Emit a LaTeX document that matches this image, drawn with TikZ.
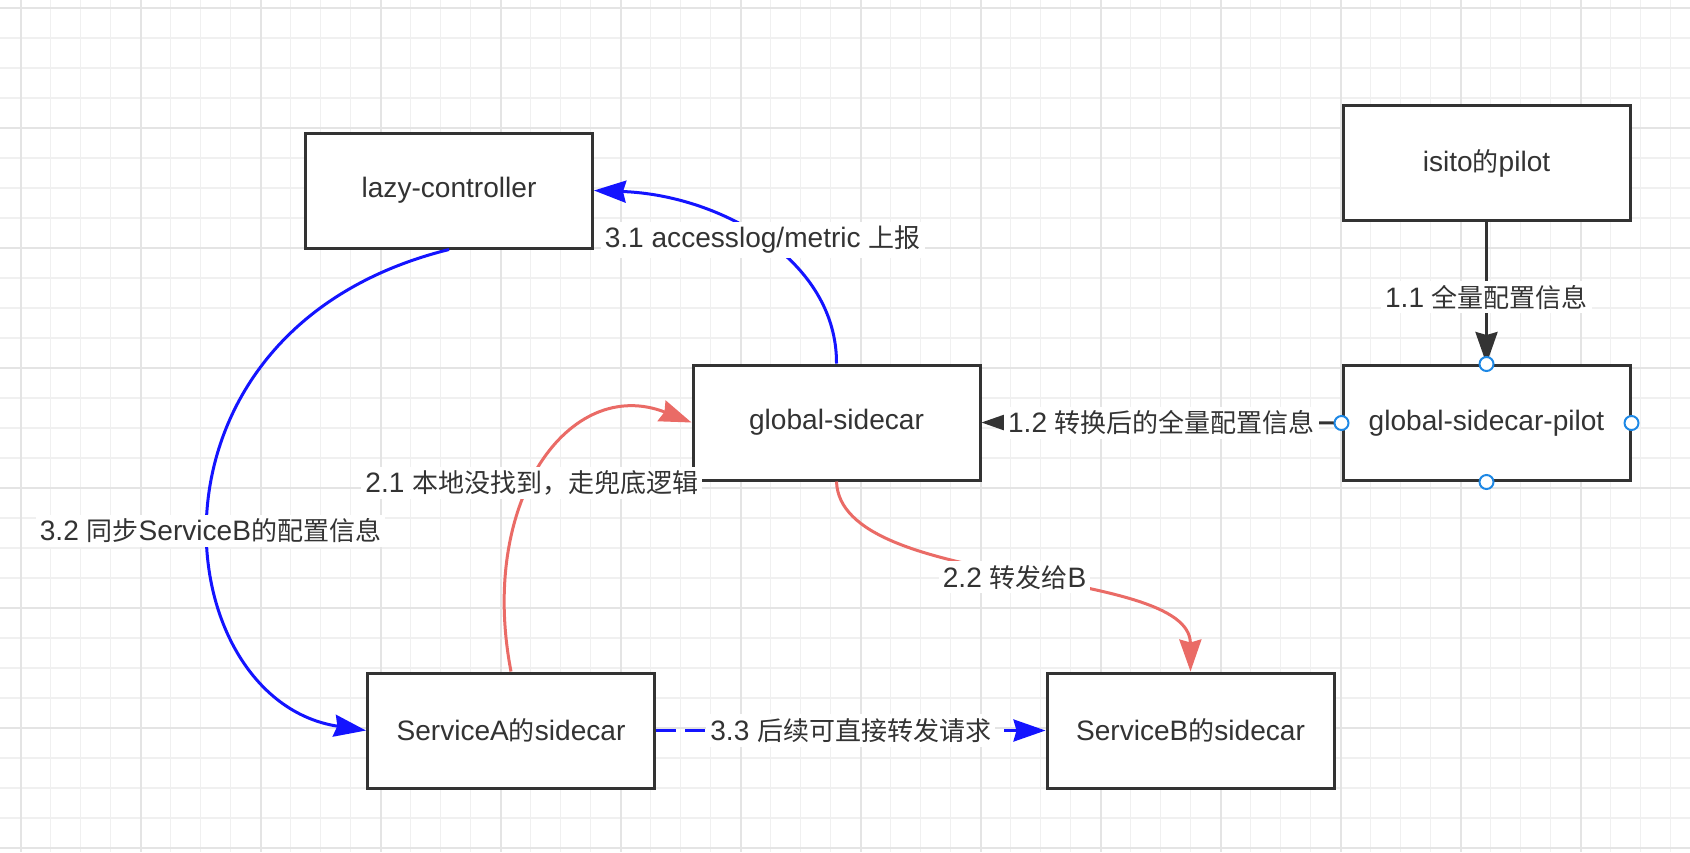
\documentclass[tikz,border=0pt]{standalone}
\usepackage{fontspec}
\setmainfont{Liberation Sans}[Scale=1.08]
\newfontfamily\cjk{Noto Sans CJK SC}
\usetikzlibrary{arrows.meta}

\definecolor{darkline}{HTML}{333333}
\definecolor{flowblue}{HTML}{1414FF}
\definecolor{flowred}{HTML}{EA6B66}
\definecolor{handleblue}{HTML}{1E88E5}
\definecolor{gridminor}{HTML}{F0F0F0}
\definecolor{gridmajor}{HTML}{E4E4E4}

\tikzset{
  box/.style={draw=darkline, line width=1.5pt, fill=white, minimum width=143.5pt,
    minimum height=57.5pt, inner sep=0pt, text=darkline, font=\fontsize{13}{15}\selectfont},
  lbl/.style={fill=white, inner sep=2pt, text=darkline, font=\fontsize{13}{15}\selectfont},
  tipstyle/.style={-{Stealth[length=16pt, width=11pt, inset=1.5pt]}},
  blueflow/.style={draw=flowblue, line width=1.5pt, tipstyle},
  redflow/.style={draw=flowred, line width=1.5pt, tipstyle},
  blackflow/.style={draw=darkline, line width=1.5pt, tipstyle},
  handle/.style={circle, draw=handleblue, fill=white, line width=1pt, inner sep=0pt, minimum size=7pt}
}

\begin{document}
\begin{tikzpicture}[x=0.5pt, y=-0.5pt]
  \useasboundingbox (0,0) rectangle (1690,852);
  \fill[white] (0,0) rectangle (1690,852);

  % grid
  \foreach \gx in {0,...,55}
    \draw[gridminor, line width=0.75pt] ({20.5+30*\gx},0) -- ({20.5+30*\gx},852);
  \foreach \gy in {0,...,28}
    \draw[gridminor, line width=0.75pt] (0,{8+30*\gy}) -- (1690,{8+30*\gy});
  \foreach \gx in {0,...,13}
    \draw[gridmajor, line width=1pt] ({20.5+120*\gx},0) -- ({20.5+120*\gx},852);
  \foreach \gy in {0,...,7}
    \draw[gridmajor, line width=1pt] (0,{8+120*\gy}) -- (1690,{8+120*\gy});

  % boxes
  \node[box] (lazy) at (449,190.5) {lazy-controller};
  \node[box] (isito) at (1486.5,163) {isito{\cjk 的}pilot};
  \node[box] (gsc) at (836.5,422.5) {global-sidecar};
  \node[box] (gsp) at (1486.5,423) {global-sidecar-pilot};
  \node[box] (svca) at (511,730.5) {ServiceA{\cjk 的}sidecar};
  \node[box] (svcb) at (1190.5,730.5) {ServiceB{\cjk 的}sidecar};

  % step 1
  \draw[blackflow] (isito.south) -- (gsp.north)
    node[lbl, pos=0.53] {1.1 {\cjk 全量配置信息}};
  \draw[blackflow] (gsp.west) -- (gsc.east)
    node[lbl, midway] {1.2 {\cjk 转换后的全量配置信息}};

  % step 2
  \draw[redflow] (svca.north) .. controls (478,500) and (570,375) .. (gsc.west)
    node[lbl, pos=0.44] {2.1 {\cjk 本地没找到，走兜底逻辑}};
  \draw[redflow] (gsc.south) .. controls (840,590) and (1190,565) .. (svcb.north)
    node[lbl, pos=0.5] {2.2 {\cjk 转发给}B};

  % step 3
  \draw[blueflow] (gsc.north) .. controls (837,260) and (720,195) .. (lazy.east)
    node[lbl, pos=0.5] {3.1 accesslog/metric {\cjk 上报}};
  \draw[blueflow] (lazy.south) .. controls (125,330) and (165,700) .. (svca.west)
    node[lbl, pos=0.535] {3.2 {\cjk 同步}ServiceB{\cjk 的配置信息}};
  \draw[blueflow, dash pattern=on 10pt off 4.5pt] (svca.east) -- (svcb.west)
    node[lbl, midway] {3.3 {\cjk 后续可直接转发请求}};

  % selection handles
  \foreach \side in {north,south,east,west}
    \node[handle] (h-\side) at (gsp.\side) {};
\end{tikzpicture}
\end{document}
